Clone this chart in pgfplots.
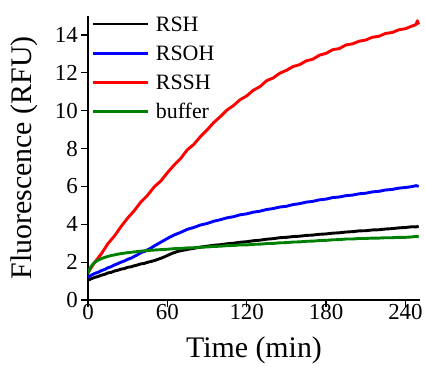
\documentclass[border=0pt]{standalone}
\usepackage{pgfplots}
\pgfplotsset{compat=1.18}
\usepackage{fontspec}
\setmainfont{Liberation Serif}
\definecolor{dgreen}{RGB}{0,128,0}
\begin{document}
\begin{tikzpicture}
\begin{axis}[
  at={(0,0)}, anchor=south west,
  scale only axis, width=332bp, height=284bp,
  xmin=0, xmax=251, ymin=0, ymax=15,
  axis x line=bottom, axis y line=left,
  axis line style={-, line width=1.2bp},
  every tick/.style={black, line width=1.2bp},
  tick align=outside, major tick length=7bp,
  xtick={0,60,120,180,240}, ytick={0,2,4,6,8,10,12,14},
  /pgf/number format/assume math mode=true,
  xticklabel={\pgfmathprintnumber{\tick}},
  yticklabel={\pgfmathprintnumber{\tick}},
  ticklabel style={font=\rmfamily\fontsize{23}{25}\selectfont, inner sep=0pt},
  xticklabel style={anchor=north, yshift=3bp},
  yticklabel style={anchor=east, xshift=-3bp},
  xlabel={Time (min)}, ylabel={Fluorescence (RFU)},
  label style={font=\rmfamily\fontsize{30}{32}\selectfont},
  xlabel style={at={(axis description cs:0.5,-0.2007)}, anchor=base},
  ylabel style={at={(axis description cs:-0.1687,0.5)}, anchor=base},
  legend style={at={(axis description cs:0.012,1)}, anchor=north west, draw=none, fill=none,
    inner sep=0pt, outer sep=0pt, font=\rmfamily\fontsize{22}{24}\selectfont,
    nodes={inner sep=0pt, text height=15bp, text depth=1bp}, row sep=13.3bp,
    /tikz/every odd column/.style={column sep=6bp}},
  legend cell align=left,
  legend image code/.code={\draw[#1] (0bp,0bp) -- (55bp,0bp);},
]
\addplot[black, line width=2.9bp, line join=round] coordinates {(0,1.05)(2.5,1.12)(5,1.19)(7.5,1.24)(10,1.31)(12.5,1.35)(15,1.43)(17.5,1.46)(20,1.53)(22.5,1.57)(25,1.63)(27.5,1.66)(30,1.73)(32.5,1.75)(35,1.81)(37.5,1.85)(40,1.91)(42.5,1.93)(45,1.99)(47.5,2.03)(50,2.08)(52.5,2.14)(55,2.2)(57.5,2.27)(60,2.35)(62.5,2.43)(65,2.5)(67.5,2.56)(70,2.6)(75,2.67)(80,2.73)(85,2.79)(90,2.84)(95,2.89)(100,2.92)(105,2.97)(110,3.0)(115,3.05)(120,3.08)(125,3.13)(130,3.16)(135,3.21)(140,3.24)(145,3.29)(150,3.31)(155,3.35)(160,3.37)(165,3.41)(170,3.43)(175,3.47)(180,3.49)(185,3.53)(190,3.55)(195,3.59)(200,3.61)(205,3.65)(210,3.66)(215,3.7)(220,3.71)(225,3.75)(230,3.77)(235,3.81)(240,3.83)(245,3.87)(248,3.86)(250,3.9)};
\addlegendentry{RSH}
\addplot[blue, line width=2.9bp, line join=round] coordinates {(0,1.2)(2.5,1.31)(5,1.4)(7.5,1.46)(10,1.55)(12.5,1.61)(15,1.7)(17.5,1.76)(20,1.85)(22.5,1.92)(25,2.0)(27.5,2.06)(30,2.15)(32.5,2.21)(35,2.3)(37.5,2.39)(40,2.5)(42.5,2.56)(45,2.65)(47.5,2.74)(50,2.85)(55,3.05)(60,3.25)(65,3.43)(70,3.57)(75,3.73)(80,3.83)(85,3.96)(90,4.04)(95,4.16)(100,4.24)(105,4.34)(110,4.4)(115,4.5)(120,4.55)(125,4.64)(130,4.69)(135,4.78)(140,4.83)(145,4.91)(150,4.95)(155,5.04)(160,5.09)(165,5.17)(170,5.21)(175,5.29)(180,5.33)(185,5.41)(190,5.44)(195,5.51)(200,5.54)(205,5.61)(210,5.64)(215,5.71)(220,5.74)(225,5.81)(230,5.84)(235,5.91)(240,5.94)(245,5.99)(248,6.04)(250,6.0)};
\addlegendentry{RSOH}
\addplot[red, line width=2.9bp, line join=round] coordinates {(0,1.45)(5,1.98)(10,2.43)(15,2.97)(20,3.38)(25,3.88)(30,4.33)(35,4.72)(40,5.18)(45,5.53)(50,5.97)(55,6.28)(60,6.72)(65,7.12)(70,7.47)(75,7.93)(80,8.22)(85,8.63)(90,8.98)(95,9.37)(100,9.68)(105,10.03)(110,10.27)(115,10.58)(120,10.78)(125,11.08)(130,11.27)(135,11.58)(140,11.73)(145,11.98)(150,12.13)(155,12.33)(160,12.43)(165,12.63)(170,12.72)(175,12.93)(180,13.03)(185,13.22)(190,13.28)(195,13.47)(200,13.53)(205,13.67)(210,13.73)(215,13.88)(220,13.93)(225,14.08)(230,14.13)(235,14.27)(240,14.33)(245,14.47)(248,14.55)(249,14.75)(250,14.55)};
\addlegendentry{RSSH}
\addplot[dgreen, line width=2.9bp, line join=round] coordinates {(0,1.4)(1,1.6)(2,1.73)(3,1.83)(4,1.91)(5,1.98)(7.5,2.1)(10,2.18)(12.5,2.25)(15,2.3)(17.5,2.35)(20,2.38)(22.5,2.42)(25,2.45)(30,2.5)(35,2.54)(40,2.58)(45,2.61)(50,2.64)(55,2.66)(60,2.68)(65,2.71)(70,2.72)(75,2.75)(80,2.76)(85,2.79)(90,2.8)(95,2.83)(100,2.84)(105,2.87)(110,2.88)(115,2.91)(120,2.91)(125,2.94)(130,2.95)(135,2.98)(140,2.99)(145,3.02)(150,3.03)(155,3.06)(160,3.07)(165,3.1)(170,3.11)(175,3.14)(180,3.15)(185,3.18)(190,3.19)(195,3.22)(200,3.22)(205,3.25)(210,3.25)(215,3.27)(220,3.27)(225,3.29)(230,3.29)(235,3.31)(240,3.31)(245,3.33)(248,3.36)(250,3.34)};
\addlegendentry{buffer}
\end{axis}
\pgfresetboundingbox
\path (-88bp,-70bp) rectangle (337bp,300bp);
\end{tikzpicture}
\end{document}
